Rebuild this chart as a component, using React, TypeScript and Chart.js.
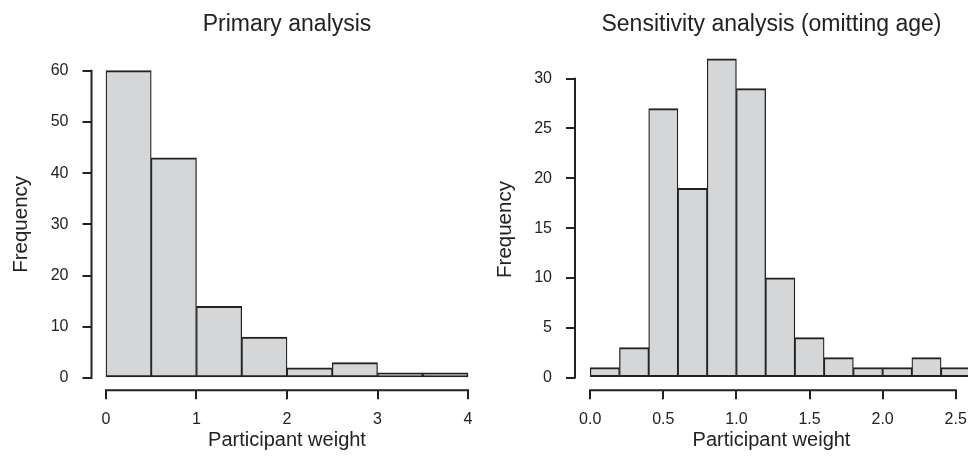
import React, { useEffect, useRef } from "react";
import { Chart, registerables } from "chart.js";

Chart.register(...registerables);

// ---- Data ----
const primaryTitle = "Primary analysis";
const primaryBreaks = [0, 0.5, 1, 1.5, 2, 2.5, 3, 3.5, 4];
const primaryCounts = [60, 43, 14, 8, 2, 3, 1, 1];
const primaryXTicks = [0, 1, 2, 3, 4];
const primaryYTicks = [0, 10, 20, 30, 40, 50, 60];

const sensTitle = "Sensitivity analysis (omitting age)";
const sensBreaks = [0, 0.2, 0.4, 0.6, 0.8, 1.0, 1.2, 1.4, 1.6, 1.8, 2.0, 2.2, 2.4, 2.6];
const sensCounts = [1, 3, 27, 19, 32, 29, 10, 4, 2, 1, 1, 2, 1];
const sensXTicks = [0, 0.5, 1.0, 1.5, 2.0, 2.5];
const sensYTicks = [0, 5, 10, 15, 20, 25, 30];

const xAxisLabel = "Participant weight";
const yAxisLabel = "Frequency";

const INK = "#222222";
const FILL = "#d5d6d8";

const rAxesPlugin = {
  id: "rAxes",
  afterDraw(chart: any) {
    const { ctx, chartArea, scales } = chart;
    const xs = scales.x;
    const ys = scales.y;
    const xt = xs.ticks;
    const yt = ys.ticks;
    ctx.save();
    ctx.strokeStyle = INK;
    ctx.lineWidth = 2;
    ctx.lineCap = "butt";
    ctx.beginPath();
    ctx.moveTo(xs.getPixelForValue(xt[0].value) - 1, chartArea.bottom);
    ctx.lineTo(xs.getPixelForValue(xt[xt.length - 1].value) + 1, chartArea.bottom);
    ctx.moveTo(chartArea.left, ys.getPixelForValue(yt[0].value) + 1);
    ctx.lineTo(chartArea.left, ys.getPixelForValue(yt[yt.length - 1].value) - 1);
    ctx.stroke();
    ctx.restore();
  },
};

function makeConfig(opts: {
  title: string;
  breaks: number[];
  counts: number[];
  xTicks: number[];
  yTicks: number[];
  xMin: number;
  xMax: number;
  yMin: number;
  yMax: number;
  yWidth: number;
  rightPad: number;
  titleBottomPad: number;
  yTitleShift: number;
  decimals: number;
}) {
  const data = opts.counts.map((c, i) => ({
    x: (opts.breaks[i] + opts.breaks[i + 1]) / 2,
    y: c,
  }));
  return {
    type: "bar",
    data: {
      datasets: [
        {
          data,
          backgroundColor: FILL,
          borderColor: INK,
          borderWidth: { top: 2, bottom: 2, left: 1.3, right: 1.3 },
          borderSkipped: false,
          barPercentage: 1,
          categoryPercentage: 1,
        },
      ],
    },
    options: {
      responsive: false,
      animation: false,
      devicePixelRatio: 1,
      layout: { padding: { left: 0, right: opts.rightPad, top: 0, bottom: 0 } },
      plugins: {
        legend: { display: false },
        tooltip: { enabled: false },
        title: {
          display: true,
          text: opts.title,
          fullSize: false,
          color: INK,
          font: { size: 23, weight: "normal", lineHeight: 1.2 },
          padding: { top: 11, bottom: opts.titleBottomPad },
        },
      },
      scales: {
        x: {
          type: "linear",
          min: opts.xMin,
          max: opts.xMax,
          offset: false,
          grid: {
            display: true,
            offset: false,
            drawOnChartArea: false,
            drawTicks: true,
            tickLength: 9,
            color: INK,
            lineWidth: 2,
          },
          border: { display: false },
          ticks: {
            padding: 11,
            color: INK,
            font: { size: 16 },
            maxRotation: 0,
            autoSkip: false,
            callback: (v: number) => v.toFixed(opts.decimals),
          },
          title: {
            display: true,
            text: xAxisLabel,
            color: INK,
            font: { size: 20, lineHeight: 1.2 },
            padding: { top: 0, bottom: 9 },
          },
          afterBuildTicks: (s: any) => {
            s.ticks = opts.xTicks.map((v) => ({ value: v }));
          },
          afterFit: (s: any) => {
            s.height = 70.7;
            s.paddingLeft = 0;
            s.paddingRight = 0;
          },
        },
        y: {
          type: "linear",
          min: opts.yMin,
          max: opts.yMax,
          grid: {
            display: true,
            drawOnChartArea: false,
            drawTicks: true,
            tickLength: 9,
            color: INK,
            lineWidth: 2,
          },
          border: { display: false },
          ticks: {
            padding: 14,
            color: INK,
            font: { size: 16 },
            autoSkip: false,
            callback: (v: number) => String(v),
          },
          title: {
            display: true,
            text: yAxisLabel + " ".repeat(opts.yTitleShift),
            color: INK,
            font: { size: 20.5, lineHeight: 1.2 },
            padding: { top: 9, bottom: 0 },
          },
          afterBuildTicks: (s: any) => {
            s.ticks = opts.yTicks.map((v) => ({ value: v }));
          },
          afterFit: (s: any) => {
            s.width = opts.yWidth;
            s.paddingTop = 0;
            s.paddingBottom = 0;
          },
        },
      },
    },
    plugins: [rAxesPlugin],
  } as any;
}

export default function App() {
  const leftRef = useRef<HTMLCanvasElement | null>(null);
  const rightRef = useRef<HTMLCanvasElement | null>(null);

  useEffect(() => {
    Chart.defaults.font.family = '"Liberation Sans", Arial, Helvetica, sans-serif';
    Chart.defaults.color = INK;
    const left = new Chart(
      leftRef.current as HTMLCanvasElement,
      makeConfig({
        title: primaryTitle,
        breaks: primaryBreaks,
        counts: primaryCounts,
        xTicks: primaryXTicks,
        yTicks: primaryYTicks,
        xMin: -0.16,
        xMax: 4.16,
        yMin: -2.4,
        yMax: 62.4,
        yWidth: 91.5,
        rightPad: 1.5,
        titleBottomPad: 19.8,
        yTitleShift: 0,
        decimals: 0,
      })
    );
    const right = new Chart(
      rightRef.current as HTMLCanvasElement,
      makeConfig({
        title: sensTitle,
        breaks: sensBreaks,
        counts: sensCounts,
        xTicks: sensXTicks,
        yTicks: sensYTicks,
        xMin: -0.104,
        xMax: 2.584,
        yMin: -1.28,
        yMax: 33.28,
        yWidth: 91,
        rightPad: 0,
        titleBottomPad: 7.4,
        yTitleShift: 4,
        decimals: 1,
      })
    );
    return () => {
      left.destroy();
      right.destroy();
    };
  }, []);

  return (
    <div
      style={{
        position: "absolute",
        left: 0,
        top: 0,
        width: 968,
        height: 461,
        background: "#ffffff",
        overflow: "hidden",
      }}
    >
      <div style={{ position: "absolute", left: 0, top: 0, width: 484, height: 461 }}>
        <canvas ref={leftRef} width={484} height={461} style={{ display: "block" }} />
      </div>
      <div style={{ position: "absolute", left: 484, top: 0, width: 484, height: 461 }}>
        <canvas ref={rightRef} width={484} height={461} style={{ display: "block" }} />
      </div>
    </div>
  );
}
